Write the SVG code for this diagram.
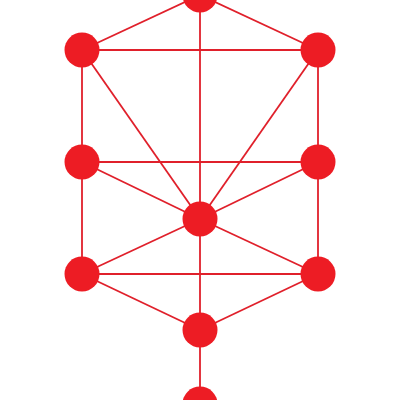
<svg xmlns="http://www.w3.org/2000/svg" width="400" height="400" viewBox="0 0 400 400">
<style>
.e{stroke:#E0202B;stroke-width:1.8;fill:none}
.n{fill:#ED1C24}
</style>
<rect width="400" height="400" fill="#fff"/>
<g id="edges">
<line class="e" x1="200" y1="-5" x2="82" y2="50"/>
<line class="e" x1="200" y1="-5" x2="318" y2="50"/>
<line class="e" x1="200" y1="-5" x2="200" y2="219"/>
<line class="e" x1="82" y1="50" x2="318" y2="50"/>
<line class="e" x1="82" y1="50" x2="82" y2="162"/>
<line class="e" x1="318" y1="50" x2="318" y2="162"/>
<line class="e" x1="82" y1="50" x2="200" y2="219"/>
<line class="e" x1="318" y1="50" x2="200" y2="219"/>
<line class="e" x1="82" y1="162" x2="318" y2="162"/>
<line class="e" x1="82" y1="162" x2="200" y2="219"/>
<line class="e" x1="318" y1="162" x2="200" y2="219"/>
<line class="e" x1="82" y1="162" x2="82" y2="274"/>
<line class="e" x1="318" y1="162" x2="318" y2="274"/>
<line class="e" x1="200" y1="219" x2="82" y2="274"/>
<line class="e" x1="200" y1="219" x2="318" y2="274"/>
<line class="e" x1="200" y1="219" x2="200" y2="330"/>
<line class="e" x1="82" y1="274" x2="318" y2="274"/>
<line class="e" x1="82" y1="274" x2="200" y2="330"/>
<line class="e" x1="318" y1="274" x2="200" y2="330"/>
<line class="e" x1="200" y1="330" x2="200" y2="404"/>
</g>
<g id="n1"><circle class="n" cx="200" cy="-5" r="17.5"/></g>
<g id="n2"><circle class="n" cx="82" cy="50" r="17.5"/></g>
<g id="n3"><circle class="n" cx="318" cy="50" r="17.5"/></g>
<g id="n4"><circle class="n" cx="82" cy="162" r="17.5"/></g>
<g id="n5"><circle class="n" cx="318" cy="162" r="17.5"/></g>
<g id="n6"><circle class="n" cx="200" cy="219" r="17.5"/></g>
<g id="n7"><circle class="n" cx="82" cy="274" r="17.5"/></g>
<g id="n8"><circle class="n" cx="318" cy="274" r="17.5"/></g>
<g id="n9"><circle class="n" cx="200" cy="330" r="17.5"/></g>
<g id="n10"><circle class="n" cx="200" cy="404" r="17.5"/></g>
</svg>
